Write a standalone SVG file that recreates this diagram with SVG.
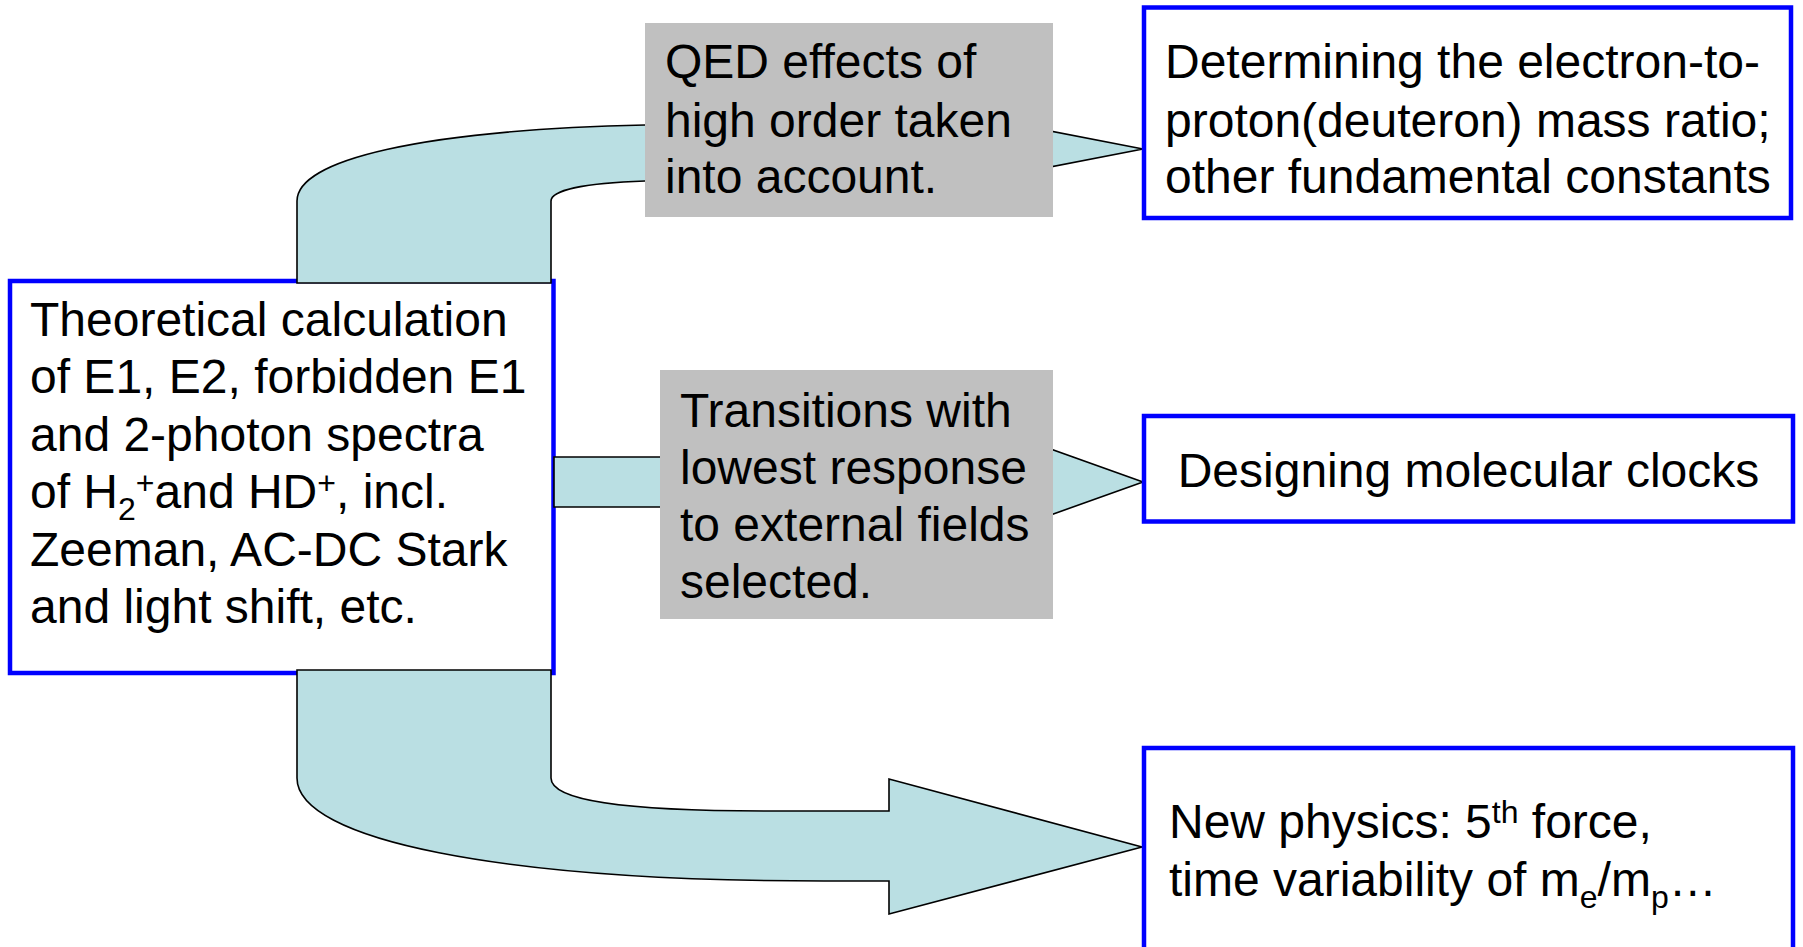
<svg xmlns="http://www.w3.org/2000/svg" width="1803" height="947" viewBox="0 0 1803 947">
  <style>
    text { font-family: "Liberation Sans", Arial, sans-serif; font-size: 48px; fill: #000; }
    .sm { font-size: 32px; }
    .box { fill: #fff; stroke: #0000ff; stroke-width: 4.5; }
    .note { fill: #c0c0c0; stroke: none; }
    .arrow { fill: #badfe3; stroke: #000; stroke-width: 1.6; stroke-linejoin: miter; }
  </style>

  <!-- source box -->
  <g id="theory">
    <rect class="box" x="10" y="281" width="543.5" height="392"/>
    <text x="30" y="336">Theoretical calculation</text>
    <text x="30" y="393">of E1, E2, forbidden E1</text>
    <text x="30" y="451">and 2-photon spectra</text>
    <text x="30" y="508">of H<tspan class="sm" dy="12">2</tspan><tspan class="sm" dy="-26">+</tspan><tspan dy="14">and HD</tspan><tspan class="sm" dy="-14">+</tspan><tspan dy="14">, incl.</tspan></text>
    <text x="30" y="566">Zeeman, AC-DC Stark</text>
    <text x="30" y="623">and light shift, etc.</text>
  </g>

  <!-- block arrows -->
  <g id="connectors">
    <path class="arrow" d="M297,283 L297,201 C297,160 420,130 645,125 L880,121 L880,98 L1143,149 L880,200 L880,178 L645,181 C585,183 551,190 551,201 L551,283 Z"/>
    <path class="arrow" d="M554,457 L930,457 L930,406 L1143,482 L930,558 L930,507 L554,507 Z"/>
    <path class="arrow" d="M551,670 L551,778 C551,800 620,811 767,811 L889,811 L889,779 L1142,847 L889,914 L889,881 L824,881 C500,881 297,840 297,778 L297,670 Z"/>
  </g>

  <!-- grey labels on the arrows -->
  <g id="qed-label">
    <rect class="note" x="645" y="23" width="408" height="194"/>
    <text x="665" y="78">QED effects of</text>
    <text x="665" y="137">high order taken</text>
    <text x="665" y="193">into account.</text>
  </g>

  <g id="transitions-label">
    <rect class="note" x="660" y="370" width="393" height="249"/>
    <text x="680" y="427">Transitions with</text>
    <text x="680" y="484">lowest response</text>
    <text x="680" y="541">to external fields</text>
    <text x="680" y="598">selected.</text>
  </g>

  <!-- outcome boxes -->
  <g id="mass-ratio">
    <rect class="box" x="1144" y="7.5" width="647" height="210.5"/>
    <text x="1165" y="78">Determining the electron-to-</text>
    <text x="1165" y="137">proton(deuteron) mass ratio;</text>
    <text x="1165" y="193">other fundamental constants</text>
  </g>

  <g id="clocks">
    <rect class="box" x="1144" y="416" width="649" height="105.5"/>
    <text x="1468.5" y="487" text-anchor="middle">Designing molecular clocks</text>
  </g>

  <g id="new-physics">
    <rect class="box" x="1144" y="748" width="649" height="230"/>
    <text x="1169" y="838">New physics: 5<tspan class="sm" dy="-15">th</tspan><tspan dy="15"> force,</tspan></text>
    <text x="1169" y="896">time variability of m<tspan class="sm" dy="12">e</tspan><tspan dy="-12">/m</tspan><tspan class="sm" dy="12">p</tspan><tspan dy="-12">…</tspan></text>
  </g>
</svg>
